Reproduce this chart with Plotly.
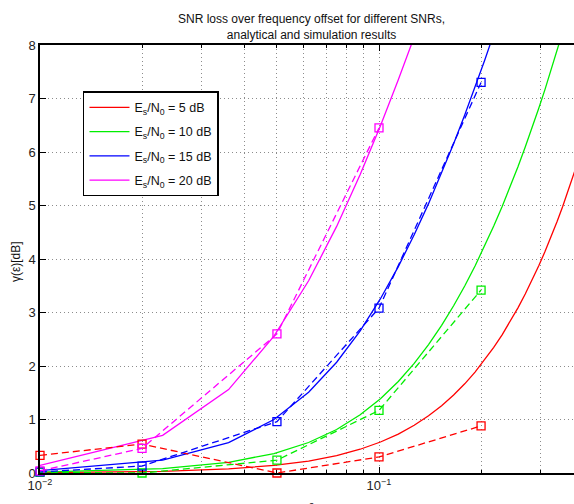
import plotly.graph_objects as go

# Analytical curves sampled at eps = 0.01 : 0.013 : 0.4
eps_analytic = [0.010, 0.023, 0.036, 0.049, 0.062, 0.075, 0.088, 0.101, 0.114, 0.127,
                0.140, 0.153, 0.166, 0.179, 0.192, 0.205, 0.218, 0.231, 0.244, 0.257,
                0.270, 0.283, 0.296, 0.309, 0.322, 0.335, 0.348, 0.361, 0.374, 0.387, 0.400]

ana_5db = [0.006, 0.031, 0.077, 0.141, 0.224, 0.326, 0.444, 0.579, 0.728, 0.892,
           1.069, 1.258, 1.457, 1.667, 1.886, 2.113, 2.347, 2.588, 2.835, 3.087,
           3.345, 3.607, 3.873, 4.143, 4.418, 4.695, 4.976, 5.260, 5.548, 5.838, 6.132]
ana_10db = [0.016, 0.083, 0.200, 0.363, 0.570, 0.813, 1.088, 1.388, 1.710, 2.049,
            2.400, 2.760, 3.126, 3.496, 3.869, 4.242, 4.615, 4.987, 5.357, 5.726,
            6.092, 6.455, 6.817, 7.176, 7.532, 7.887, 8.240]
ana_15db = [0.046, 0.240, 0.567, 1.000, 1.510, 2.070, 2.658, 3.258, 3.858, 4.452,
            5.035, 5.602, 6.155, 6.691, 7.211, 7.716, 8.207]
ana_20db = [0.142, 0.704, 1.559, 2.557, 3.593, 4.609, 5.579, 6.492, 7.349, 8.152]

# Simulation results
eps_sim = [0.01, 0.02, 0.05, 0.1, 0.2]
sim_5db = [0.33, 0.54, 0.00, 0.30, 0.88]
sim_10db = [0.01, 0.00, 0.24, 1.17, 3.42]
sim_15db = [0.02, 0.13, 0.96, 3.08, 7.30]
sim_20db = [0.04, 0.46, 2.60, 6.45]

names = ["E<sub>s</sub>/N<sub>0</sub> = 5 dB", "E<sub>s</sub>/N<sub>0</sub> = 10 dB",
         "E<sub>s</sub>/N<sub>0</sub> = 15 dB", "E<sub>s</sub>/N<sub>0</sub> = 20 dB"]
colors = ["#ff0000", "#00ee00", "#0000ff", "#ff00ff"]

x_ticks = [0.01, 0.1]
x_tick_text = ["10<sup>\u22122</sup>", "10<sup>\u22121</sup>"]
x_minor = [0.02, 0.03, 0.04, 0.05, 0.06, 0.07, 0.08, 0.09, 0.2, 0.3]
y_ticks = [0, 1, 2, 3, 4, 5, 6, 7, 8]

ana = [ana_5db, ana_10db, ana_15db, ana_20db]
sim = [sim_5db, sim_10db, sim_15db, sim_20db]

fig = go.Figure()
for i in range(4):
    fig.add_trace(go.Scatter(
        x=eps_analytic[:len(ana[i])], y=ana[i], mode="lines", name=names[i],
        legendgroup="g%d" % i,
        line=dict(color=colors[i], width=1.3), cliponaxis=True))
for i in range(4):
    fig.add_trace(go.Scatter(
        x=eps_sim[:len(sim[i])], y=sim[i], mode="lines+markers", showlegend=False,
        legendgroup="g%d" % i,
        line=dict(color=colors[i], width=1.3, dash="7px,4px"),
        marker=dict(symbol="square-open", size=8, color=colors[i], line=dict(width=1.3)),
        cliponaxis=False))

font_family = "Liberation Sans, Arial, Helvetica, sans-serif"
grid_col = "#8c8c8c"
grid_dash = "1px,3px"

fig.update_layout(
    width=574, height=504,
    margin=dict(l=40, r=0, t=45, b=31),
    paper_bgcolor="white", plot_bgcolor="white",
    font=dict(family=font_family, size=12, color="#222222"),
    showlegend=True,
    legend=dict(x=0.0805, y=0.892, xanchor="left", yanchor="top",
                bgcolor="white", bordercolor="black", borderwidth=1.5,
                font=dict(size=12.5, color="#111111"), tracegroupgap=5,
                itemwidth=40),
    xaxis=dict(type="log", range=[-2, -0.4248],
               tickmode="array", tickvals=x_ticks, ticktext=x_tick_text,
               ticks="inside", ticklen=6, tickcolor="black",
               showline=True, linecolor="black", linewidth=1.5, mirror="ticks",
               showgrid=True, gridcolor=grid_col, griddash=grid_dash, gridwidth=1,
               zeroline=False,
               minor=dict(tickvals=x_minor, ticks="inside", ticklen=3, tickcolor="black",
                          showgrid=True, gridcolor=grid_col, griddash=grid_dash, gridwidth=1),
               tickfont=dict(size=13)),
    yaxis=dict(range=[0, 8], tickmode="array", tickvals=y_ticks,
               ticks="inside", ticklen=6, tickcolor="black",
               showline=True, linecolor="black", linewidth=1.5, mirror=False,
               showgrid=True, gridcolor=grid_col, griddash=grid_dash, gridwidth=1,
               zeroline=False, tickfont=dict(size=13)),
)

fig.add_annotation(text="SNR loss over frequency offset for different SNRs,<br>analytical and simulation results",
                   xref="paper", yref="paper", x=0.5075, y=1.043, xanchor="center", yanchor="middle",
                   showarrow=False, font=dict(size=12, color="#111111"))
fig.add_annotation(text="\u03b3(\u03b5)[dB]", xref="paper", yref="paper", x=-0.045, y=0.495,
                   textangle=-90, xanchor="center", yanchor="middle", showarrow=False,
                   font=dict(size=12, color="#111111"))
fig.add_annotation(text="\u03b5", xref="paper", yref="paper", x=0.5075, y=-0.056,
                   xanchor="center", yanchor="top", showarrow=False,
                   font=dict(size=11, color="#111111"))

fig.write_html("out.html")
